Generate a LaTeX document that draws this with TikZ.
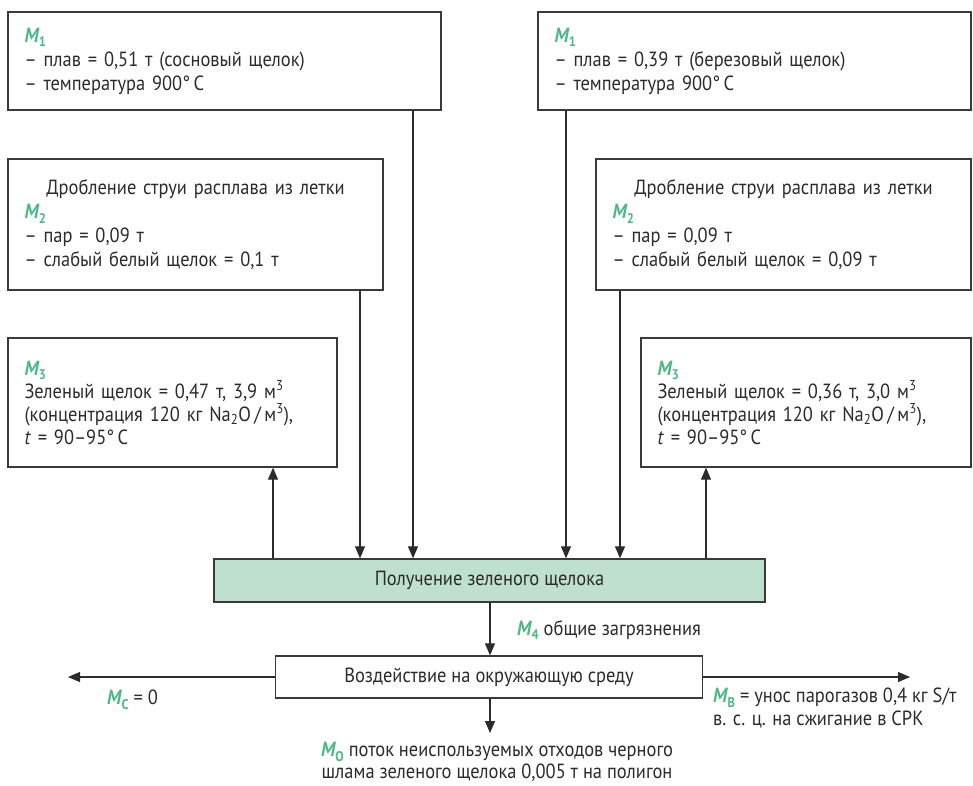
\documentclass[tikz,border=0pt]{standalone}
\usepackage{fontspec}
\setmainfont{PT Sans}[FakeStretch=0.9]
\usetikzlibrary{arrows.meta}
\definecolor{mg}{HTML}{4DB886}
\definecolor{boxfill}{HTML}{BFE0CF}
\definecolor{ink}{HTML}{2B2B2B}
\definecolor{edge}{HTML}{3A3A3A}
\newcommand\Ml[1]{{\color{mg}\bfseries\itshape M\kern0.3pt\raisebox{-0.45ex}{\fontsize{14}{14}\selectfont\upshape\bfseries #1}}}
\newcommand\dgC{°\,C}
\begin{document}
\begin{tikzpicture}[x=1pt,y=-1pt,
  every node/.style={text=ink},
  txt/.style={font=\fontsize{20.5}{24}\selectfont},
  infobox/.style={draw=edge,line width=1.3pt,rectangle,inner sep=0pt,txt,align=left},
  mainbox/.style={draw=edge,line width=1.3pt,rectangle,inner sep=0pt,txt,align=center},
  flow/.style={draw=ink,line width=1.1pt,-{Triangle[length=12pt,width=10pt]}}
]
\useasboundingbox (0,0) rectangle (973,785);
% top boxes
\node[infobox,minimum width=433pt,minimum height=98pt,text width=400pt] (b1l) at (224.5,61)
 {\Ml{1}\\– плав = 0,51 т (сосновый щелок)\\– температура 900\dgC};
\node[infobox,minimum width=433pt,minimum height=98pt,text width=400pt] (b1r) at (754.5,61)
 {\Ml{1}\\– плав = 0,39 т (березовый щелок)\\– температура 900\dgC};
% second boxes
\node[infobox,minimum width=375pt,minimum height=131pt,text width=342pt] (b2l) at (195.5,224.5)
 {\makebox[342pt][c]{Дробление струи расплава из летки}\\\Ml{2}\\– пар = 0,09 т\\– слабый белый щелок = 0,1 т};
\node[infobox,minimum width=375pt,minimum height=131pt,text width=342pt] (b2r) at (783.5,224.5)
 {\makebox[342pt][c]{Дробление струи расплава из летки}\\\Ml{2}\\– пар = 0,09 т\\– слабый белый щелок = 0,09 т};
% third boxes
\node[infobox,minimum width=329pt,minimum height=129pt,text width=296pt,font=\fontsize{20.5}{23}\selectfont] (b3l) at (172.5,402.5)
 {\Ml{3}\\Зеленый щелок = 0,47 т, 3,9 м\textsuperscript{3}\\(концентрация 120 кг Na\textsubscript{2}O\,/\,м\textsuperscript{3}),\\\textit{t} = 90–95\dgC};
\node[infobox,minimum width=330pt,minimum height=129pt,text width=297pt,font=\fontsize{20.5}{23}\selectfont] (b3r) at (806,402.5)
 {\Ml{3}\\Зеленый щелок = 0,36 т, 3,0 м\textsuperscript{3}\\(концентрация 120 кг Na\textsubscript{2}O\,/\,м\textsuperscript{3}),\\\textit{t} = 90–95\dgC};
% main boxes
\node[mainbox,fill=boxfill,minimum width=551pt,minimum height=43pt] (green) at (489.5,580.5) {Получение зеленого щелока};
\node[mainbox,fill=white,minimum width=427pt,minimum height=42pt] (env) at (489,677) {Воздействие на окружающую среду};
% connectors
\draw[flow] (green.north -| 273,0) -- (b3l.south -| 273,0);
\draw[flow] (b2l.south -| 360,0) -- (green.north -| 360,0);
\draw[flow] (b1l.south -| 413,0) -- (green.north -| 413,0);
\draw[flow] (b1r.south -| 566,0) -- (green.north -| 566,0);
\draw[flow] (b2r.south -| 620,0) -- (green.north -| 620,0);
\draw[flow] (green.north -| 706,0) -- (b3r.south -| 706,0);
\draw[flow] (green.south -| 490,0) -- (env.north -| 490,0);
\coordinate (leftend) at (68,677);
\coordinate (rightend) at (910,677);
\coordinate (downend) at (490,733);
\draw[flow] (env.west) -- (leftend);
\draw[flow] (env.east) -- (rightend);
\draw[flow] (env.south -| 490,0) -- (downend);
% labels
\node[txt,anchor=west,inner sep=0pt] (l4) at (517,630) {\Ml{4} общие загрязнения};
\node[txt,anchor=west,inner sep=0pt] (lc) at (107,700) {\Ml{C} = 0};
\node[txt,anchor=north west,inner sep=0pt,align=left,font=\fontsize{20.5}{23}\selectfont] (lb) at (713,688) {\Ml{B} = унос парогазов 0,4 кг S/т\\в. с. ц. на сжигание в СРК};
\node[txt,anchor=north,inner sep=0pt,align=center,font=\fontsize{20.5}{22}\selectfont] (lo) at (497,742) {\Ml{O} поток неиспользуемых отходов черного\\шлама зеленого щелока 0,005 т на полигон};
\end{tikzpicture}
\end{document}
